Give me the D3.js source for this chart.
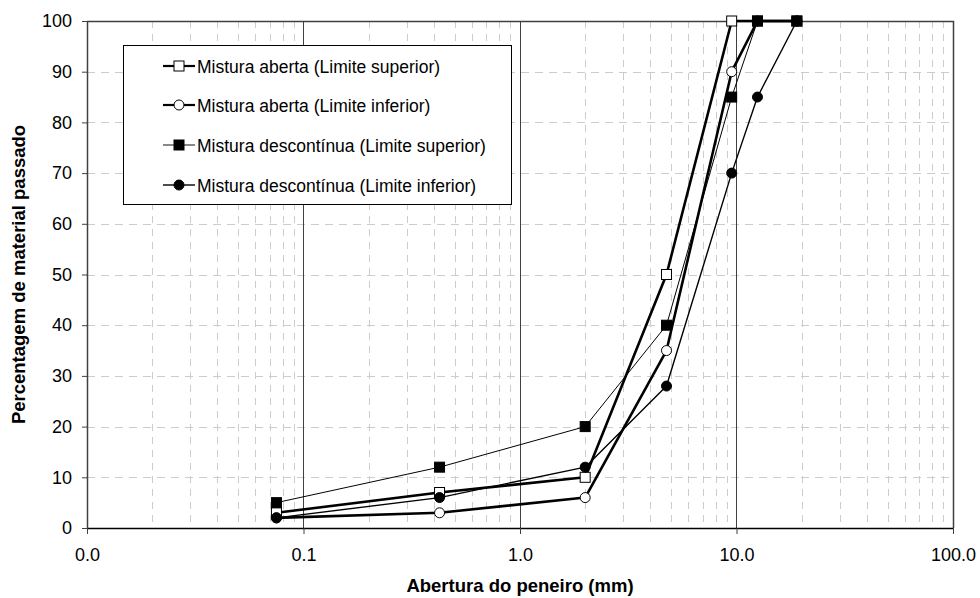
<!DOCTYPE html>
<html>
<head>
<meta charset="utf-8">
<script src="https://cdn.jsdelivr.net/npm/d3@7"></script>
<style>
  body { margin: 0; background: #fff; }
  svg { font-family: "Liberation Sans", Arial, sans-serif; }
</style>
</head>
<body>
<div id="chart"></div>
<script>
// Sieve openings (mm)
const sieves = [0.075, 0.425, 2.0, 4.75, 9.5, 12.5, 19.0];

// Percentage passing for each curve
const abertaSup = [3, 7, 10, 50, 100, 100, 100];
const abertaInf = [2, 3, 6, 35, 90, 100, 100];
const descSup = [5, 12, 20, 40, 85, 100, 100];
const descInf = [2, 6, 12, 28, 70, 85, 100];

const seriesNames = [
    "Mistura aberta (Limite superior)",
    "Mistura aberta (Limite inferior)",
    "Mistura descontínua (Limite superior)",
    "Mistura descontínua (Limite inferior)"
];

const xTicks = [0.01, 0.1, 1, 10, 100];
const yTicks = [0, 10, 20, 30, 40, 50, 60, 70, 80, 90, 100];

const series = [
    {name: seriesNames[0], values: abertaSup, marker: "square", fill: "#fff", width: 2.6},
    {name: seriesNames[1], values: abertaInf, marker: "circle", fill: "#fff", width: 2.6},
    {name: seriesNames[2], values: descSup, marker: "square", fill: "#000", width: 1},
    {name: seriesNames[3], values: descInf, marker: "circle", fill: "#000", width: 1.4}
];

const W = 980, H = 598;
const margin = {top: 21, right: 27, bottom: 70, left: 87};
const width = W - margin.left - margin.right;
const height = H - margin.top - margin.bottom;

const svg = d3.select("#chart").append("svg")
    .attr("width", W)
    .attr("height", H);

const g = svg.append("g")
    .attr("transform", "translate(" + margin.left + "," + margin.top + ")");

const x = d3.scaleLog().domain([0.01, 100]).range([0, width]);
const y = d3.scaleLinear().domain([0, 100]).range([height, 0]);

// Minor vertical grid (2..9 in each decade)
const minor = [];
for (let d = 0.01; d < 100; d *= 10) {
    for (let k = 2; k <= 9; k++) minor.push(d * k);
}
g.append("g").selectAll("line")
    .data(minor)
    .join("line")
    .attr("x1", d => Math.round(x(d)) + 0.5)
    .attr("x2", d => Math.round(x(d)) + 0.5)
    .attr("y1", 0)
    .attr("y2", height)
    .attr("stroke", "#cccccc")
    .attr("stroke-dasharray", "7,6");

// Horizontal grid
g.append("g").selectAll("line")
    .data(yTicks.slice(1, -1))
    .join("line")
    .attr("x1", 0)
    .attr("x2", width)
    .attr("y1", d => Math.round(y(d)) + 0.5)
    .attr("y2", d => Math.round(y(d)) + 0.5)
    .attr("stroke", "#cccccc")
    .attr("stroke-dasharray", "8,6");

// Major vertical grid
g.append("g").selectAll("line")
    .data(xTicks.slice(1, -1))
    .join("line")
    .attr("x1", d => Math.round(x(d)) + 0.5)
    .attr("x2", d => Math.round(x(d)) + 0.5)
    .attr("y1", 0)
    .attr("y2", height)
    .attr("stroke", "#404040")
    .attr("stroke-width", 1);

// Frame top and right
g.append("path")
    .attr("d", "M0,0.5H" + (width + 0.5) + "V" + height)
    .attr("fill", "none")
    .attr("stroke", "#404040")
    .attr("stroke-width", 1.5);

// Axes
const xAxis = d3.axisBottom(x)
    .tickValues(xTicks)
    .tickFormat(d3.format(".1f"))
    .tickSize(6)
    .tickPadding(14);

const yAxis = d3.axisLeft(y)
    .tickValues(yTicks)
    .tickSize(5)
    .tickPadding(10);

const gx = g.append("g")
    .attr("transform", "translate(0," + height + ")")
    .call(xAxis);
gx.select(".domain").attr("stroke", "#000").attr("stroke-width", 1.5).attr("d", "M0,0.5H" + width);
gx.selectAll(".tick line").attr("stroke", "#404040");
gx.selectAll("text").attr("font-size", 18).attr("fill", "#000")
    .attr("font-family", "Liberation Sans, Arial, sans-serif");

const gy = g.append("g").call(yAxis);
gy.select(".domain").attr("stroke", "#404040").attr("stroke-width", 1.5).attr("d", "M0.5,0V" + height);
gy.selectAll(".tick line").attr("stroke", "#404040");
gy.selectAll("text").attr("font-size", 18).attr("fill", "#000")
    .attr("font-family", "Liberation Sans, Arial, sans-serif");

// Axis titles
svg.append("text")
    .attr("x", margin.left + width / 2)
    .attr("y", 592)
    .attr("text-anchor", "middle")
    .attr("font-size", 18.5)
    .attr("font-weight", "bold")
    .text("Abertura do peneiro (mm)");

svg.append("text")
    .attr("transform", "translate(25," + (margin.top + height / 2) + ") rotate(-90)")
    .attr("text-anchor", "middle")
    .attr("font-size", 18.5)
    .attr("font-weight", "bold")
    .text("Percentagem de material passado");

// Lines
const line = d3.line()
    .x((d, i) => x(sieves[i]))
    .y(d => y(d));

g.append("g").selectAll("path")
    .data(series)
    .join("path")
    .attr("d", d => line(d.values))
    .attr("fill", "none")
    .attr("stroke", "#000")
    .attr("stroke-width", d => d.width)
    .attr("stroke-linejoin", "round");

// Markers
function drawMarker(sel, s, cx, cy) {
    if (s.marker === "square") {
        sel.append("rect")
            .attr("x", cx - 5).attr("y", cy - 5)
            .attr("width", 10).attr("height", 10)
            .attr("fill", s.fill).attr("stroke", "#000").attr("stroke-width", 1);
    } else {
        sel.append("circle")
            .attr("cx", cx).attr("cy", cy).attr("r", 5)
            .attr("fill", s.fill).attr("stroke", "#000").attr("stroke-width", 1);
    }
}

series.forEach(s => {
    const mg = g.append("g");
    s.values.forEach((v, i) => drawMarker(mg, s, x(sieves[i]), y(v)));
});

// Legend
const lx = 123, ly = 45, lw = 388, lh = 159;
const legend = svg.append("g");
legend.append("rect")
    .attr("x", lx + 0.5).attr("y", ly + 0.5)
    .attr("width", lw).attr("height", lh)
    .attr("fill", "#fff").attr("stroke", "#000").attr("stroke-width", 1);

const rowY = [66, 105, 145, 185];
series.forEach((s, i) => {
    const row = legend.append("g");
    row.append("line")
        .attr("x1", 163).attr("x2", 195)
        .attr("y1", rowY[i]).attr("y2", rowY[i])
        .attr("stroke", i === 2 ? "#555" : "#000")
        .attr("stroke-width", s.width > 2 ? 2.2 : 1.4);
    drawMarker(row, s, 179, rowY[i]);
    row.append("text")
        .attr("x", 197).attr("y", rowY[i] + 7)
        .attr("font-size", 17.5)
        .text(s.name);
});
</script>
</body>
</html>
